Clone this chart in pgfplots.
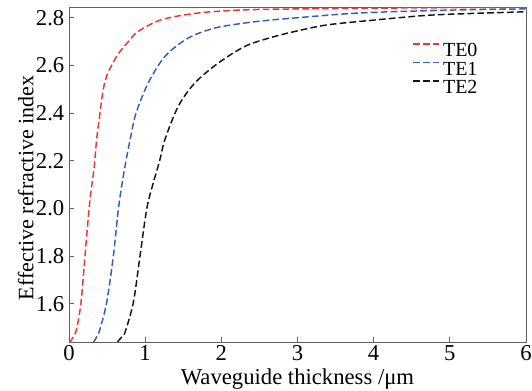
\documentclass[border=0pt]{standalone}
\usepackage{fontspec}
\setmainfont{Liberation Serif}
\usepackage{pgfplots}
\pgfplotsset{compat=1.18}
\definecolor{cred}{RGB}{238,52,52}
\definecolor{cblue}{RGB}{52,92,196}
\definecolor{cblack}{RGB}{20,20,20}
\begin{document}
\begin{tikzpicture}
\useasboundingbox (-51.75pt,-36pt) rectangle (347.25pt,256.5pt);
\begin{axis}[
  scale only axis, width=342.75pt, height=251.25pt,
  at={(0,0)}, anchor=south west,
  xmin=0, xmax=6, ymin=1.44, ymax=2.845,
  xtick={0,1,2,3,4,5,6},
  ytick={1.6,1.8,2.0,2.2,2.4,2.6,2.8},
  yticklabel style={/pgf/number format/.cd,fixed,fixed zerofill,precision=1},
  /pgf/number format/assume math mode=true,
  tick align=inside, tick pos=left,
  major tick length=4pt,
  axis line style={draw=black!62, line width=0.7pt},
  tick style={draw=black!62, line width=0.6pt},
  every tick label/.append style={font=\fontsize{17}{18}\selectfont},
  xlabel={Waveguide thickness /μm},
  ylabel={Effective refractive index},
  xlabel style={font=\fontsize{17}{18}\selectfont, yshift=1pt},
  ylabel style={font=\fontsize{16.5}{18}\selectfont, yshift=-5pt, xshift=-10pt},
  xticklabel style={yshift=1pt},
  legend style={draw=none, fill=none, at={(0.7505,0.8925)}, anchor=north west,
    font=\fontsize{15}{15}\selectfont, row sep=4pt, inner sep=0pt,
    nodes={inner sep=0pt, text height=9.5pt, text depth=0pt},
    column sep=1pt},
  legend cell align=left,
  legend image code/.code={\draw[#1] (0pt,4.6pt) -- (21pt,4.6pt);},
  every axis plot/.append style={line width=1.1pt, dash pattern=on 5pt off 2.4pt},
]
\addplot[cred, smooth] coordinates {
(0.0,1.44) (0.026,1.445) (0.06,1.465) (0.10,1.494) (0.158,1.606) (0.21,1.80)
(0.263,1.997) (0.30,2.10) (0.33,2.17) (0.363,2.29) (0.407,2.40) (0.45,2.50)
(0.50,2.56) (0.56,2.60) (0.65,2.65) (0.78,2.70) (0.91,2.743) (1.217,2.792)
(1.70,2.820) (2.31,2.833) (3,2.837) (4,2.840) (5,2.842) (6,2.843)};
\addlegendentry{TE0}
\addplot[cblue, smooth] coordinates {
(0.32,1.44) (0.333,1.445) (0.37,1.465) (0.407,1.494) (0.495,1.606) (0.582,1.80)
(0.648,1.997) (0.70,2.11) (0.748,2.20) (0.81,2.30) (0.88,2.40) (1.041,2.527) (1.26,2.638)
(1.566,2.715) (1.917,2.757) (2.31,2.778) (2.64,2.79) (3.0,2.80) (3.82,2.82)
(5,2.832) (6,2.837)};
\addlegendentry{TE1}
\addplot[cblack, smooth] coordinates {
(0.64,1.44) (0.648,1.445) (0.69,1.46) (0.735,1.48) (0.845,1.606) (0.932,1.80)
(1.02,1.997) (1.10,2.10) (1.19,2.20) (1.26,2.29) (1.435,2.429) (1.654,2.527) (1.96,2.61)
(2.31,2.68) (2.64,2.716) (3.0,2.745) (3.39,2.77) (4.0,2.79) (4.70,2.81)
(5.3,2.818) (6,2.825)};
\addlegendentry{TE2}
\end{axis}
\end{tikzpicture}
\end{document}
